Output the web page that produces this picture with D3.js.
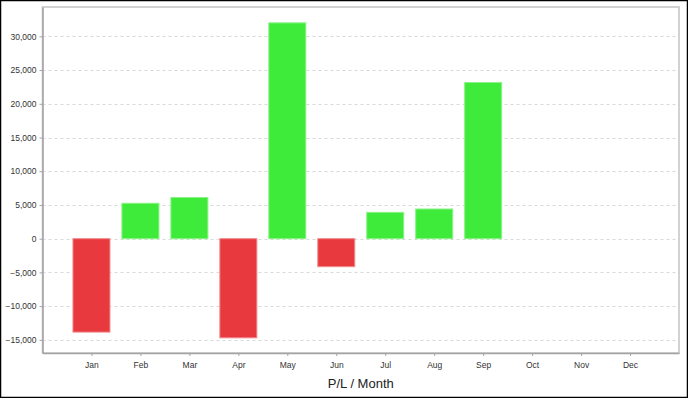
<!DOCTYPE html>
<html>
<head>
<meta charset="utf-8">
<script src="https://cdn.jsdelivr.net/npm/d3@7"></script>
<style>
  body { margin: 0; background: #fff; }
  svg { display: block; font-family: "Liberation Sans", Arial, sans-serif; }
</style>
</head>
<body>
<svg id="chart"></svg>
<script>
// data
var months = ["Jan", "Feb", "Mar", "Apr", "May", "Jun", "Jul", "Aug", "Sep", "Oct", "Nov", "Dec"]
var profit = [-13850, 5250, 6100, -14700, 32000, -4150, 3900, 4400, 23150, null, null, null]
var yTicks = [-15000, -10000, -5000, 0, 5000, 10000, 15000, 20000, 25000, 30000]
var axisTitle = "P/L / Month"

// afmetingen
var W = 688, H = 398
var margin = {top: 7, right: 9, bottom: 45, left: 42.5}
var width = W - margin.left - margin.right
var height = H - margin.top - margin.bottom

var svg = d3.select("#chart")
    .attr("width", W)
    .attr("height", H)

// buitenrand
svg.append("rect")
    .attr("x", 0.5).attr("y", 0.5)
    .attr("width", W - 1).attr("height", H - 1)
    .attr("fill", "#fff")
    .attr("stroke", "#000")
    .attr("stroke-width", 1.5)

var g = svg.append("g")
    .attr("transform", "translate(" + margin.left + "," + margin.top + ")")

// schalen
var x = d3.scalePoint()
    .domain(months)
    .range([0, width])
    .padding(1)

var y = d3.scaleLinear()
    .domain([-16950, 34350])
    .range([height, 0])

var barWidth = 37

// grid
g.append("g")
    .selectAll("line")
    .data(yTicks)
    .enter().append("line")
      .attr("x1", 0)
      .attr("x2", width)
      .attr("y1", function(d) { return Math.round(y(d)) + 0.5 })
      .attr("y2", function(d) { return Math.round(y(d)) + 0.5 })
      .attr("stroke", "#d9d9d9")
      .attr("stroke-dasharray", "3,3")

// bars
g.append("g")
    .selectAll("rect")
    .data(months.map(function(m, i) { return {month: m, value: profit[i]} })
      .filter(function(d) { return d.value !== null }))
    .enter().append("rect")
      .attr("x", function(d) { return x(d.month) - barWidth / 2 })
      .attr("y", function(d) { return y(Math.max(0, d.value)) })
      .attr("width", barWidth)
      .attr("height", function(d) { return Math.abs(y(d.value) - y(0)) })
      .attr("fill", function(d) { return d.value >= 0 ? "#3feb3a" : "#e8393e" })
      .attr("stroke", function(d) { return d.value >= 0 ? "#8af285" : "#f08a8d" })
      .attr("stroke-width", 1)

// kader om het plotgebied
g.append("rect")
    .attr("x", 0).attr("y", 0)
    .attr("width", width).attr("height", height)
    .attr("fill", "none")
    .attr("stroke", "#c4c4c4")
    .attr("stroke-width", 1.5)

// y as
var yAxis = g.append("g")
    .call(d3.axisLeft(y).tickValues(yTicks).tickSize(3).tickSizeOuter(0).tickPadding(3)
      .tickFormat(d3.format(",")))
yAxis.select(".domain").attr("stroke", "#a3a3a3").attr("stroke-width", 1.5)
yAxis.selectAll(".tick line").attr("stroke", "#a3a3a3")
yAxis.selectAll("text").attr("fill", "#333").attr("font-size", 8.5)

// x as
var xAxis = g.append("g")
    .attr("transform", "translate(0," + height + ")")
    .call(d3.axisBottom(x).tickSize(3).tickSizeOuter(0).tickPadding(6))
xAxis.select(".domain").attr("stroke", "#a3a3a3").attr("stroke-width", 1.5)
xAxis.selectAll(".tick line").attr("stroke", "#a3a3a3")
xAxis.selectAll("text").attr("fill", "#333").attr("font-size", 8.5)

// titel van de x as
svg.append("text")
    .attr("x", margin.left + width / 2)
    .attr("y", 388)
    .attr("text-anchor", "middle")
    .attr("font-size", 13)
    .attr("fill", "#222")
    .text(axisTitle)
</script>
</body>
</html>
